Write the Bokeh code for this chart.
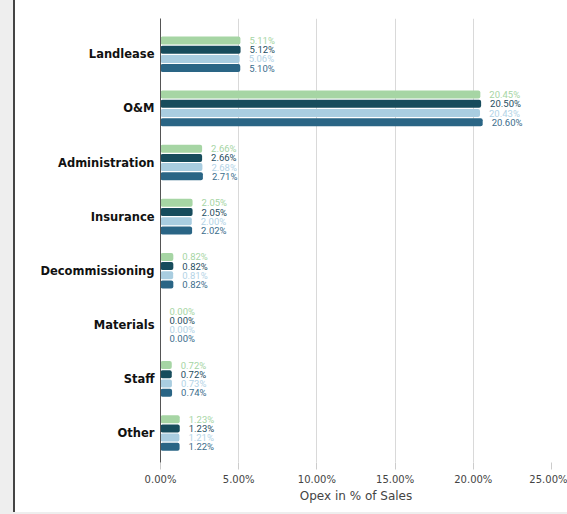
from bokeh.plotting import figure
from bokeh.models import ColumnDataSource, PrintfTickFormatter, FixedTicker
from bokeh.transform import dodge
from bokeh.core.properties import value
from bokeh.embed import file_html
from bokeh.resources import INLINE

categories = ["Landlease", "O&M", "Administration", "Insurance", "Decommissioning", "Materials", "Staff", "Other"]
series_a = [5.11, 20.45, 2.66, 2.05, 0.82, 0.00, 0.72, 1.23]
series_b = [5.12, 20.50, 2.66, 2.05, 0.82, 0.00, 0.72, 1.23]
series_c = [5.06, 20.43, 2.68, 2.00, 0.81, 0.00, 0.73, 1.21]
series_d = [5.10, 20.60, 2.71, 2.02, 0.82, 0.00, 0.74, 1.22]
x_ticks = [0, 5, 10, 15, 20, 25]
x_label = "Opex in % of Sales"

bar_colors = ["#a6d5a4", "#174c5c", "#a9cde0", "#2a6585"]
label_colors = ["#a6d5a4", "#1f4e5f", "#b3d3e6", "#3b6d8c"]

n = len(categories)
positions = [n - 1 - i for i in range(n)]  # first category on top

p = figure(width=567, height=514, output_backend="svg", toolbar_location=None,
           y_range=(-0.545, n - 1 + 0.662), x_range=(0, 25))
p.min_border_left = 160
p.min_border_right = 16
p.min_border_top = 18
p.min_border_bottom = 52
p.outline_line_color = None
p.border_fill_alpha = 0
p.styles = {"background": "linear-gradient(to top, #eeeeee 0px, #eeeeee 2px, transparent 2px), "
                          "linear-gradient(to right, #eeeeee 0px, #eeeeee 13px, #444444 13px, #444444 15px, #ffffff 15px)"}

step = 0.17
h = 0.148
offsets = [1.5 * step, 0.5 * step, -0.5 * step, -1.5 * step]
for vals, off, bc, lc in zip([series_a, series_b, series_c, series_d], offsets, bar_colors, label_colors):
    src = ColumnDataSource(dict(pos=positions, v=vals, lab=[f"{x:.2f}%" for x in vals]))
    p.hbar(y=dodge("pos", off), right="v", left=0, height=h, source=src,
           fill_color=bc, line_color=None, border_radius=2)
    p.text(x="v", y=dodge("pos", off), text="lab", source=src,
           x_offset=9, text_baseline="middle", text_align="left", text_color=lc,
           text_font=value("Roboto"), text_font_size="9.5px")

p.xgrid.grid_line_color = "#d9d9d9"
p.ygrid.grid_line_color = None
p.xaxis.ticker = FixedTicker(ticks=x_ticks)
p.xaxis.formatter = PrintfTickFormatter(format="%.2f%%")
p.xaxis.axis_line_color = None
p.xaxis.major_tick_line_color = "#cccccc"
p.xaxis.major_tick_out = 7
p.xaxis.major_tick_in = 0
p.xaxis.minor_tick_line_color = None
p.xaxis.major_label_text_font = "DejaVu Sans"
p.xaxis.major_label_text_font_size = "10px"
p.xaxis.major_label_text_color = "#444444"
p.xaxis.major_label_standoff = 4
p.xaxis.axis_label = x_label
p.xaxis.axis_label_text_font = "DejaVu Sans"
p.xaxis.axis_label_text_font_style = "normal"
p.xaxis.axis_label_text_font_size = "12px"
p.xaxis.axis_label_text_color = "#444444"
p.xaxis.axis_label_standoff = 1

p.yaxis.ticker = FixedTicker(ticks=positions)
p.yaxis.major_label_overrides = {pos: cat for pos, cat in zip(positions, categories)}
p.yaxis.axis_line_color = "#555555"
p.yaxis.major_tick_line_color = None
p.yaxis.major_tick_in = 0
p.yaxis.major_tick_out = 0
p.yaxis.minor_tick_line_color = None
p.yaxis.major_label_text_font = "DejaVu Sans"
p.yaxis.major_label_text_font_style = "bold"
p.yaxis.major_label_text_font_size = "11.5px"
p.yaxis.major_label_text_color = "#111111"
p.yaxis.major_label_standoff = 6

open("out.html", "w").write(file_html(p, INLINE))
